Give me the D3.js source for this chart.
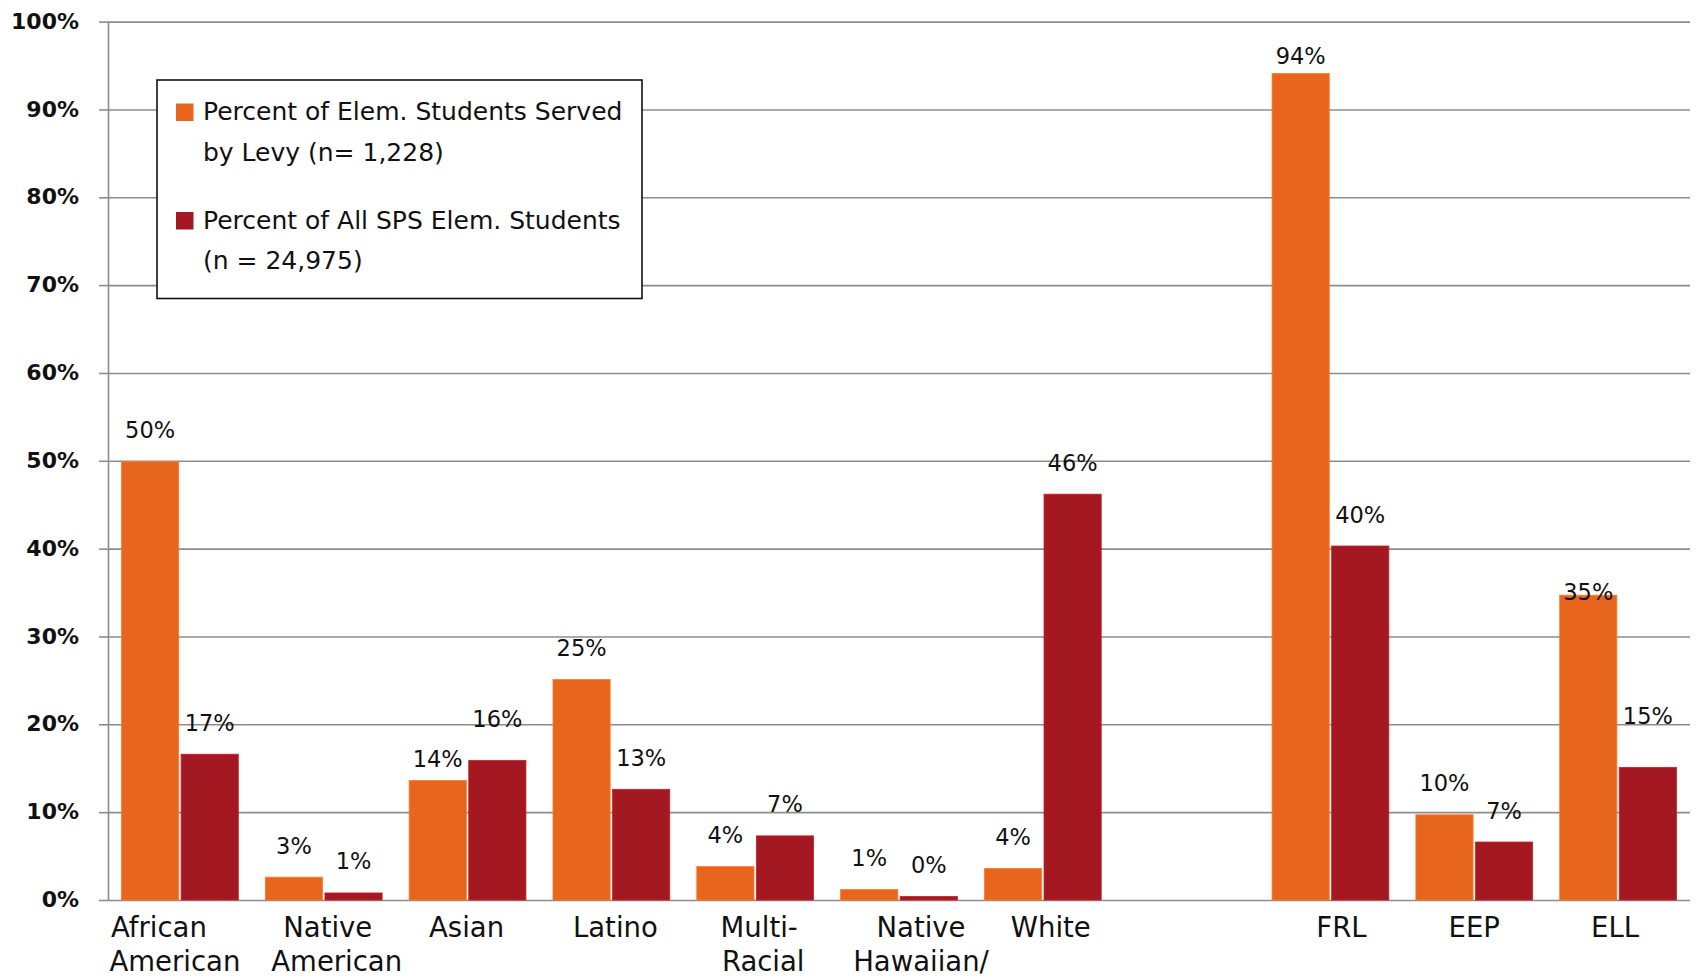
<!DOCTYPE html>
<html>
<head>
<meta charset="utf-8">
<script src="https://cdn.jsdelivr.net/npm/d3@7"></script>
<style>
  body { margin: 0; background: #fff; }
  svg { display: block; }
  text { font-family: "DejaVu Sans", sans-serif; }
</style>
</head>
<body>
<svg id="chart" width="1696" height="976"></svg>
<script>
// Student groups along the x axis ("gap" is the empty slot between the two groups of bars)
const categories = ["African American", "Native American", "Asian", "Latino", "Multi-Racial",
  "Native Hawaiian/Pacific Islander", "White", "gap", "FRL", "EEP", "ELL"];
const axisLabelLines = [["African", "American"], ["Native", "American"], ["Asian"], ["Latino"],
  ["Multi-", "Racial"], ["Native", "Hawaiian/"], ["White"], [], ["FRL"], ["EEP"], ["ELL"]];

// Percent of students in each group
const levyServed = [49.9, 2.6, 13.6, 25.1, 3.8, 1.2, 3.6, null, 94.1, 9.7, 34.7];
const allSpsElem = [16.6, 0.8, 15.9, 12.6, 7.3, 0.4, 46.2, null, 40.3, 6.6, 15.1];

const seriesLegend = [
  ["Percent of Elem. Students Served", "by Levy (n= 1,228)"],
  ["Percent of All SPS Elem. Students", "(n = 24,975)"]
];
const yTicks = [0, 10, 20, 30, 40, 50, 60, 70, 80, 90, 100];

// ---- layout ----
const W = 1696, H = 976;
const plotLeft = 108, plotRight = 1690, plotTop = 21.6, plotBottom = 900;
const colors = ["#E8651E", "#A31821"];
const gridColor = "#8c8c8c";

const svg = d3.select("#chart");
svg.append("rect").attr("width", W).attr("height", H).attr("fill", "#fff");

const x0 = d3.scaleBand().domain(categories).range([plotLeft, plotRight])
  .paddingInner(0.188).paddingOuter(0.094);
const x1 = d3.scaleBand().domain([0, 1]).range([0, x0.bandwidth()]).paddingInner(0.04);
const y = d3.scaleLinear().domain([0, 100]).range([plotBottom, plotTop]);

// horizontal gridlines
svg.append("g")
  .attr("transform", `translate(${plotLeft},0)`)
  .call(d3.axisLeft(y).tickValues(yTicks).tickSize(-(plotRight - plotLeft)).tickFormat(""))
  .call(g => g.select(".domain").remove())
  .call(g => g.selectAll("line").attr("stroke", gridColor).attr("stroke-width", 1.6));

// y axis with tick marks and bold percentage labels
svg.append("g")
  .attr("transform", `translate(${plotLeft},0)`)
  .call(d3.axisLeft(y).tickValues(yTicks).tickSize(9).tickSizeOuter(0).tickPadding(20)
    .tickFormat(d => d + "%"))
  .call(g => g.select(".domain").attr("stroke", gridColor).attr("stroke-width", 1.6))
  .call(g => g.selectAll(".tick line").attr("stroke", gridColor).attr("stroke-width", 1.6))
  .call(g => g.selectAll(".tick text")
    .attr("fill", "#111").attr("font-size", 22).attr("font-weight", "bold")
    .attr("font-family", "'DejaVu Sans', sans-serif").attr("dy", "0.3em"));

// bars
const series = [levyServed, allSpsElem];
const barData = [];
series.forEach((vals, s) => vals.forEach((v, i) => {
  if (v !== null) barData.push({ s, i, cat: categories[i], v });
}));

svg.append("g").selectAll("rect").data(barData).join("rect")
  .attr("x", d => x0(d.cat) + x1(d.s))
  .attr("width", x1.bandwidth())
  .attr("y", d => y(d.v))
  .attr("height", d => y(0) - y(d.v))
  .attr("fill", d => colors[d.s])
  .attr("stroke", d => d3.color(colors[d.s]).brighter(0.6))
  .attr("stroke-width", 0.8);

// value labels above the bars; a few are shifted to avoid neighbouring text
const labelShift = { "0-2": 9.5, "1-2": -10, "0-8": 14.5, "0-10": 28.5, "1-10": -19.5 };
svg.append("g").selectAll("text").data(barData).join("text")
  .attr("x", d => x0(d.cat) + x1(d.s) + x1.bandwidth() / 2)
  .attr("y", d => y(d.v) - 23.5 + (labelShift[d.s + "-" + d.i] || 0))
  .attr("text-anchor", "middle")
  .attr("font-size", 22.5)
  .attr("fill", "#111")
  .text(d => Math.round(d.v) + "%");

// category labels under the axis
const lineShift = [[-21, -5], [4, 13], [-1], [4], [4, 8], [22, 22], [8], [], [11], [0], [-3]];
const xLab = svg.append("g");
categories.forEach((c, i) => {
  axisLabelLines[i].forEach((line, k) => {
    xLab.append("text")
      .attr("x", x0(c) + x0.bandwidth() / 2 + lineShift[i][k])
      .attr("y", 937 + k * 34)
      .attr("text-anchor", "middle")
      .attr("font-size", 27.5)
      .attr("fill", "#111")
      .text(line);
  });
});

// legend
const lg = svg.append("g");
lg.append("rect")
  .attr("x", 157).attr("y", 80).attr("width", 485).attr("height", 218.5)
  .attr("fill", "#fff").attr("stroke", "#111").attr("stroke-width", 1.6);
seriesLegend.forEach((lines, s) => {
  const y0 = 120 + s * 108.5;
  lg.append("rect")
    .attr("x", 176).attr("y", y0 - 16.5).attr("width", 17.5).attr("height", 17.5)
    .attr("fill", colors[s]);
  lines.forEach((t, k) => {
    lg.append("text")
      .attr("x", 203).attr("y", y0 + k * 40.5)
      .attr("font-size", 25)
      .attr("fill", "#111")
      .text(t);
  });
});
</script>
</body>
</html>
